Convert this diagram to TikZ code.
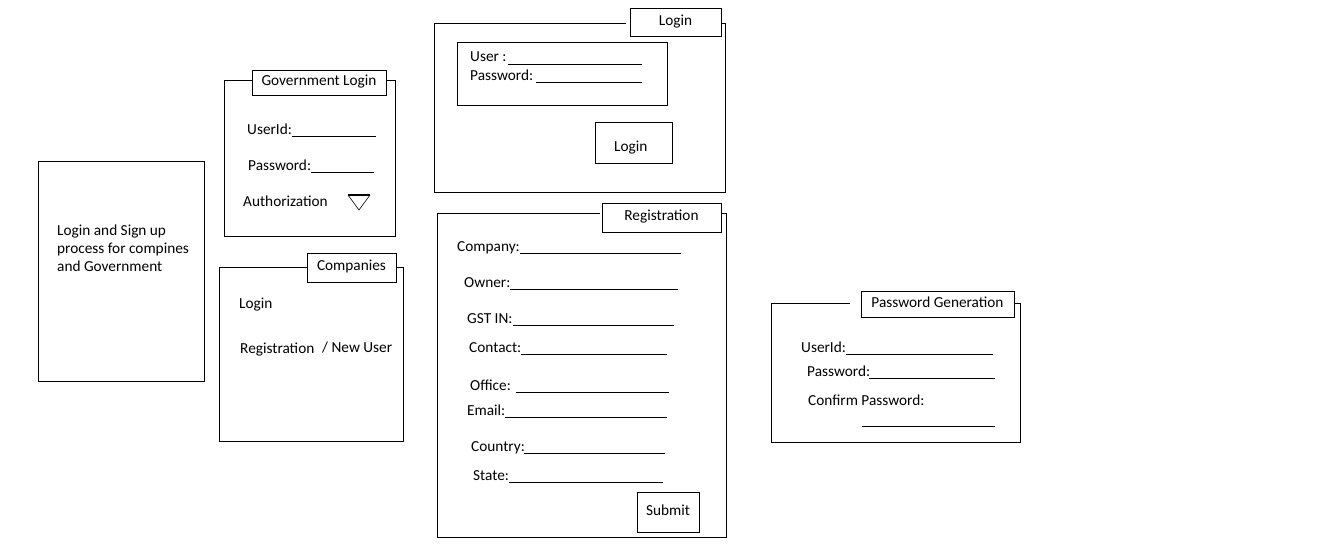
\documentclass[tikz,border=0pt]{standalone}
\usepackage{fontspec}
\setmainfont{Carlito}

\begin{document}
\begin{tikzpicture}[
            x=1pt, y=-1pt,
            every node/.style={font=\fontsize{15.3}{18}\selectfont},
            panel/.style={draw=black, line width=1pt},
            ttl/.style={rectangle, draw=black, fill=white, line width=1pt, inner sep=0pt, text height=9.5pt, text depth=3pt},
            btn/.style={rectangle, draw=black, line width=1pt, inner sep=0pt, text height=9.5pt, text depth=3pt},
            lbl/.style={anchor=base west, inner sep=0pt},
            uline/.style={draw=black, line width=1pt}
        ]
            \fill[white] (0,0) rectangle (1331,546);
            \useasboundingbox (0,0) rectangle (1331,546);

            % intro box
            \draw[panel] (38,161) rectangle (204,381);
            \node[lbl, align=left] (intro) at (57,271.7) {Login and Sign up\\process for compines\\and Government};

            % government login
            \draw[panel] (252,80) -- (224,80) -- (224,236) -- (395,236) -- (395,80) -- (386,80);
            \node[ttl, minimum width=134pt, minimum height=25pt] (govtitle) at (319,82.5) {Government Login};
                \node[lbl] (govuser) at (247,134) {UserId:};
                \draw[uline] (292,136) -- (376,136);
                \node[lbl] (govpass) at (248,170) {Password:};
                \draw[uline] (311,172) -- (374,172);
                \node[lbl] (govauth) at (243,206.7) {Authorization};
                \draw[line width=0.6pt] (348,195) -- (359,210) -- (370,195);
                \draw[line width=2pt] (348,195) -- (370,195);

            % companies
            \draw[panel] (307,267) -- (219,267) -- (219,441) -- (403,441) -- (403,267) -- (396,267);
            \node[ttl, minimum width=89pt, minimum height=29pt] (comptitle) at (351.5,267.5) {Companies};
                \node[lbl] (complogin) at (239,308.3) {Login};
                \node[lbl] (compreg) at (240,353.3) {Registration};
                \node[lbl] (compnew) at (322,352.7) {/ New User};

            % login panel
            \draw[panel] (626,23) -- (434,23) -- (434,192) -- (725,192) -- (725,23) -- (721,23);
            \node[ttl, minimum width=91pt, minimum height=28pt] (logintitle) at (675.5,22) {Login};
                \draw[panel] (457,42) rectangle (667,105);
                \node[lbl] (loginuser) at (470,61.7) {User :};
                \draw[uline] (508,64) -- (642,64);
                \node[lbl] (loginpass) at (470,80) {Password:};
                \draw[uline] (536,82) -- (642,82);
                \node[btn, minimum width=77pt, minimum height=41pt] (loginbtn) at (633.5,142.5) {};
                \node[lbl] (loginbtntxt) at (614,151.7) {Login};

            % registration panel
            \draw[panel] (600,213) -- (437,213) -- (437,537) -- (726,537) -- (726,213) -- (721,213);
            \node[ttl, minimum width=119pt, minimum height=29pt] (regtitle) at (661.5,217.5) {Registration};
                \node[lbl] (company) at (457,251) {Company:};
                \draw[uline] (520,253) -- (681,253);
                \node[lbl] (owner) at (464,287) {Owner:};
                \draw[uline] (510,289) -- (678,289);
                \node[lbl] (gstin) at (467,323) {GST IN:};
                \draw[uline] (513,325) -- (674,325);
                \node[lbl] (contact) at (469,352) {Contact:};
                \draw[uline] (521,354) -- (667,354);
                \node[lbl] (office) at (470,390) {Office:};
                \draw[uline] (516,392) -- (669,392);
                \node[lbl] (email) at (467,415) {Email:};
                \draw[uline] (505,417) -- (667,417);
                \node[lbl] (country) at (471,451) {Country:};
                \draw[uline] (524,453) -- (665,453);
                \node[lbl] (state) at (473,480) {State:};
                \draw[uline] (509,482) -- (663,482);
                \node[btn, minimum width=62pt, minimum height=40pt] (submit) at (668,512) {Submit};

            % password generation
            \draw[panel] (850,303) -- (771,303) -- (771,442) -- (1020,442) -- (1020,303) -- (1014,303);
            \node[ttl, minimum width=153pt, minimum height=26pt] (pwtitle) at (937.5,304) {Password Generation};
                \node[lbl] (pwuser) at (801,352) {UserId:};
                \draw[uline] (846,354) -- (993,354);
                \node[lbl] (pwpass) at (807,376) {Password:};
                \draw[uline] (869,378) -- (995,378);
                \node[lbl] (pwconfirm) at (808,405.7) {Confirm Password:};
                \draw[uline] (862,426) -- (995,426);
        \end{tikzpicture}
\end{document}
